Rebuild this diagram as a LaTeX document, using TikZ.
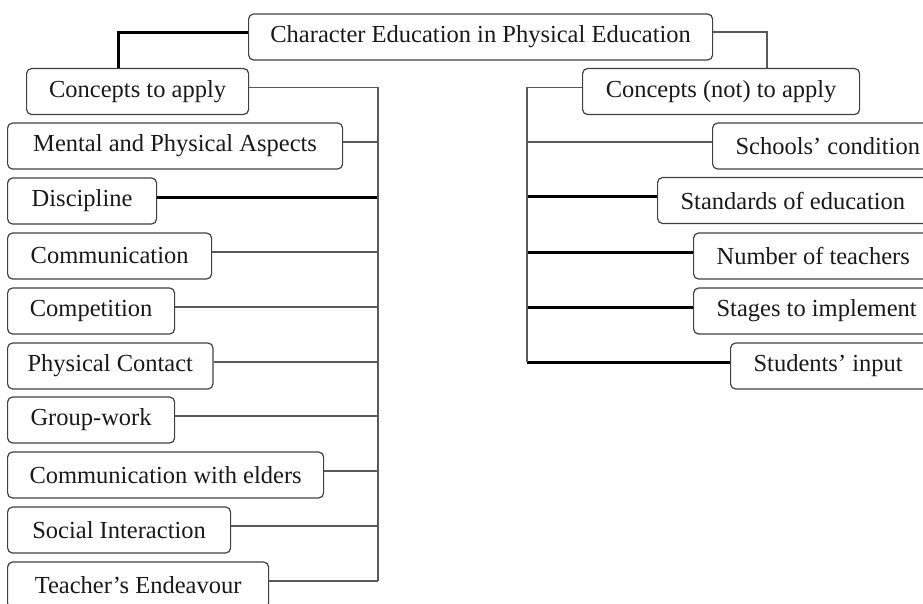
\documentclass[tikz,border=0pt]{standalone}
\usepackage{fontspec}
\setmainfont{Liberation Serif}
\begin{document}
\begin{tikzpicture}[x=1pt,y=-1pt,
  box/.style={draw=black!75, line width=1.2pt, rounded corners=5pt, minimum height=46pt,
    inner xsep=20pt, inner ysep=0pt, anchor=west, text=black!90,
    font=\fontsize{24.5}{28}\selectfont},
  conn/.style={draw=black!65, line width=1.3pt},
  boldconn/.style={draw=black, line width=3pt}]
\useasboundingbox (0,0) rectangle (923,603);

\coordinate (ltop) at (118,0);
\coordinate (rtop) at (767,0);
\coordinate (lbus) at (378,0);
\coordinate (rbus) at (527,0);

% top
\node [box, minimum width=464pt] (cepe) at (248,37) {Character Education in Physical Education};

% left branch
\node [box, minimum width=222pt] (apply) at (26,91.5) {Concepts to apply};
\foreach \n/\t/\w/\y/\s in {mental/Mental and Physical Aspects/335/146/conn,
    discipline/Discipline/149/201/boldconn,
    communication/Communication/204/256/conn,
    competition/Competition/167/311/conn,
    contact/Physical Contact/204/366/conn,
    groupwork/Group-work/167/420/conn,
    elders/Communication with elders/316/475/conn,
    social/Social Interaction/223/530/conn,
    teacher/Teacher's Endeavour/261/585/conn}{
  \node [box, minimum width=\w pt] (\n) at (7,\y) {\t};
  \draw [\s] ([yshift=4pt]\n.east) -- ([yshift=4pt]\n.east -| lbus);
}

% right branch
\node [box, minimum width=277pt] (notapply) at (582,91.5) {Concepts (not) to apply};
\foreach \n/\t/\x/\y/\s in {schools/Schools' condition/712/146/conn,
    standards/Standards of education/657/200.5/boldconn,
    teachers/Number of teachers/693/256/boldconn,
    stages/Stages to implement/693/311/boldconn,
    students/Students' input/730/366/boldconn}{
  \node [box, inner xsep=23pt, text width=240pt, align=flush left] (\n) at (\x,\y) {\t};
  \draw [\s] ([yshift=4pt]\n.west -| rbus) -- ([yshift=4pt]\n.west);
}

% connectors
\draw [boldconn] ([yshift=5pt]cepe.west) -| (ltop |- apply.north);
\draw [conn] ([yshift=5pt]cepe.east) -| (rtop |- notapply.north);
\draw [conn] ([yshift=4pt]apply.east) -- ([yshift=4pt]apply.east -| lbus)
  -- ([yshift=4pt]teacher.east -| lbus);
\draw [conn] ([yshift=4pt]notapply.west) -- ([yshift=4pt]notapply.west -| rbus)
  -- ([yshift=4pt]students.west -| rbus);

\end{tikzpicture}
\end{document}
